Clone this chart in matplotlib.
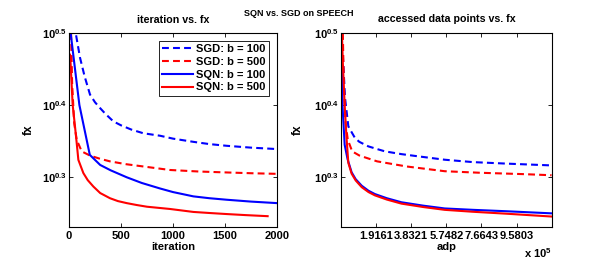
import numpy as np
import matplotlib
matplotlib.use('Agg')
import matplotlib.pyplot as plt

plt.rcParams['font.family'] = ['Liberation Sans', 'DejaVu Sans']
plt.rcParams['font.weight'] = 'bold'
plt.rcParams['font.size'] = 8
plt.rcParams['mathtext.fontset'] = 'custom'
plt.rcParams['mathtext.bf'] = 'Liberation Sans:bold'
plt.rcParams['mathtext.rm'] = 'Liberation Sans:bold'
plt.rcParams['mathtext.default'] = 'bf'

# ---- left panel: iteration vs. fx ----
sgd100_it = [50, 106, 150, 202, 250, 298, 350, 426, 500, 600, 715, 875, 1000, 1196, 1350, 1516, 1750, 2000]
sgd100_fx = [3.25, 2.922, 2.754, 2.598, 2.535, 2.489, 2.443, 2.385, 2.355, 2.323, 2.296, 2.278, 2.257,
             2.234, 2.218, 2.206, 2.193, 2.183]

sgd500_it = [20, 30, 50, 74, 122, 202, 300, 394, 550, 715, 971, 1250, 1516, 1750, 2000]
sgd500_fx = [3.162, 2.692, 2.371, 2.249, 2.167, 2.138, 2.116, 2.099, 2.080, 2.065, 2.042, 2.032,
             2.026, 2.021, 2.017]

sqn100_it = [0, 100, 200, 300, 400, 555, 700, 875, 1000, 1196, 1350, 1516, 1750, 2000]
sqn100_fx = [3.30, 2.512, 2.143, 2.075, 2.040, 1.995, 1.959, 1.925, 1.903, 1.877, 1.866, 1.857, 1.846, 1.837]

sqn500_it = [10, 16, 35, 58, 74, 90, 138, 180, 234, 300, 394, 470, 555, 650, 750, 971, 1196, 1350,
             1516, 1700, 1910]
sqn500_fx = [2.951, 2.858, 2.516, 2.344, 2.226, 2.109, 2.022, 1.977, 1.937, 1.897, 1.866, 1.849, 1.837,
             1.826, 1.816, 1.803, 1.786, 1.780, 1.774, 1.768, 1.762]

# ---- right panel: accessed data points vs. fx ----
sgd100_adp = [4e3, 22e3, 40e3, 58e3, 76e3, 100e3, 149e3, 200e3, 240e3, 330e3, 421e3, 566e3, 720e3,
              902e3, 1.149e6]
sgd100_adp_fx = [3.162, 2.570, 2.348, 2.304, 2.262, 2.234, 2.202, 2.182, 2.167, 2.148, 2.133, 2.110,
                 2.094, 2.084, 2.072]

sgd500_adp = [10e3, 15e3, 25e3, 37e3, 61e3, 101e3, 197e3, 358e3, 566e3, 758e3, 1.0e6, 1.149e6]
sgd500_adp_fx = [3.162, 2.692, 2.371, 2.249, 2.167, 2.138, 2.099, 2.065, 2.034, 2.024, 2.015, 2.008]

sqn100_adp = [0, 8e3, 20e3, 36e3, 58e3, 80e3, 113e3, 150e3, 185e3, 250e3, 330e3, 450e3, 566e3, 720e3,
              902e3, 1.149e6]
sqn100_adp_fx = [3.388, 2.512, 2.213, 2.113, 2.027, 1.983, 1.942, 1.911, 1.891, 1.866, 1.842, 1.822,
                 1.806, 1.798, 1.790, 1.778]

sqn500_adp = [5e3, 10e3, 20e3, 30e3, 40e3, 58e3, 80e3, 113e3, 150e3, 185e3, 250e3, 330e3, 450e3,
              566e3, 720e3, 902e3, 1.149e6]
sqn500_adp_fx = [3.162, 2.875, 2.512, 2.265, 2.089, 2.018, 1.975, 1.933, 1.903, 1.883, 1.858, 1.834,
                 1.814, 1.798, 1.787, 1.776, 1.760]

labels = ['SGD: b = 100', 'SGD: b = 500', 'SQN: b = 100', 'SQN: b = 500']
it_ticks = [0, 500, 1000, 1500, 2000]
adp_ticks = [1.9161e5, 3.8321e5, 5.7482e5, 7.6643e5, 9.5803e5]
adp_ticklabels = ['1.9161', '3.8321', '5.7482', '7.6643', '9.5803']
fx_ticks = [10 ** 0.3, 10 ** 0.4, 10 ** 0.5]
fx_ticklabels = [r'$10^{0.3}$', r'$10^{0.4}$', r'$10^{0.5}$']

dash = (0, (3.3, 2.0))
lw = 1.5

W, H = 597, 267
fig = plt.figure(figsize=(W / 100, H / 100), dpi=100)
ax1 = fig.add_axes([69 / W, 1 - 227 / H, 208 / W, 194 / H])
ax2 = fig.add_axes([341 / W, 1 - 227 / H, 210.7 / W, 194 / H])

ax1.plot(sgd100_it, sgd100_fx, color='blue', ls=dash, lw=lw, label=labels[0])
ax1.plot(sgd500_it, sgd500_fx, color='red', ls=dash, lw=lw, label=labels[1])
ax1.plot(sqn100_it, sqn100_fx, color='blue', lw=lw, label=labels[2])
ax1.plot(sqn500_it, sqn500_fx, color='red', lw=lw, label=labels[3])

ax2.plot(sgd100_adp, sgd100_adp_fx, color='blue', ls=dash, lw=lw)
ax2.plot(sgd500_adp, sgd500_adp_fx, color='red', ls=dash, lw=lw)
ax2.plot(sqn100_adp, sqn100_adp_fx, color='blue', lw=lw)
ax2.plot(sqn500_adp, sqn500_adp_fx, color='red', lw=lw)

for ax in (ax1, ax2):
    ax.set_yscale('log')
    ax.set_ylim(10 ** 0.231, 10 ** 0.5)
    ax.set_yticks(fx_ticks)
    ax.set_yticklabels(fx_ticklabels)
    ax.minorticks_off()
    ax.tick_params(direction='in', length=3, width=0.6, top=True, right=True, pad=3)
    ax.tick_params(axis='y', pad=1.5)
    for s in ax.spines.values():
        s.set_linewidth(0.8)
    ax.set_ylabel('fx', fontweight='bold', fontsize=8.5)

ax1.set_xlim(0, 2000)
ax1.set_xticks(it_ticks)
ax1.set_xticklabels([str(t) for t in it_ticks])
ax1.set_xlabel('iteration', fontweight='bold')
ax1.set_title('iteration vs. fx', fontweight='bold', fontsize=7.7, pad=7)
ax1.yaxis.set_label_coords(-34 / 208, 0.5)
ax1.xaxis.set_label_coords(0.5, -15 / 194)

ax2.set_xlim(0, 11.4966e5)
ax2.set_xticks(adp_ticks)
ax2.set_xticklabels(adp_ticklabels)
ax2.set_xlabel('adp', fontweight='bold')
ax2.set_title('accessed data points vs. fx', fontweight='bold', fontsize=7.7, pad=8)
ax2.yaxis.set_label_coords(-37 / 210.7, 0.5)
ax2.xaxis.set_label_coords(0.5, -15 / 194)
ax2.text(1.0, -31 / 194, r'x $10^{5}$', transform=ax2.transAxes, ha='right', va='baseline',
         fontweight='bold')

leg = ax1.legend(loc='upper right', fancybox=False, framealpha=1, edgecolor='black',
                 handlelength=2.8, handletextpad=0.3, labelspacing=0.25, borderpad=0.3,
                 borderaxespad=0.7, prop={'weight': 'bold', 'size': 8})
leg.get_frame().set_linewidth(0.6)

fig.text(0.5, 1 - 14 / H, 'SQN vs. SGD on SPEECH', ha='center', va='center', fontweight='bold',
         fontsize=6.5)

fig.savefig('out.png', dpi=100)
